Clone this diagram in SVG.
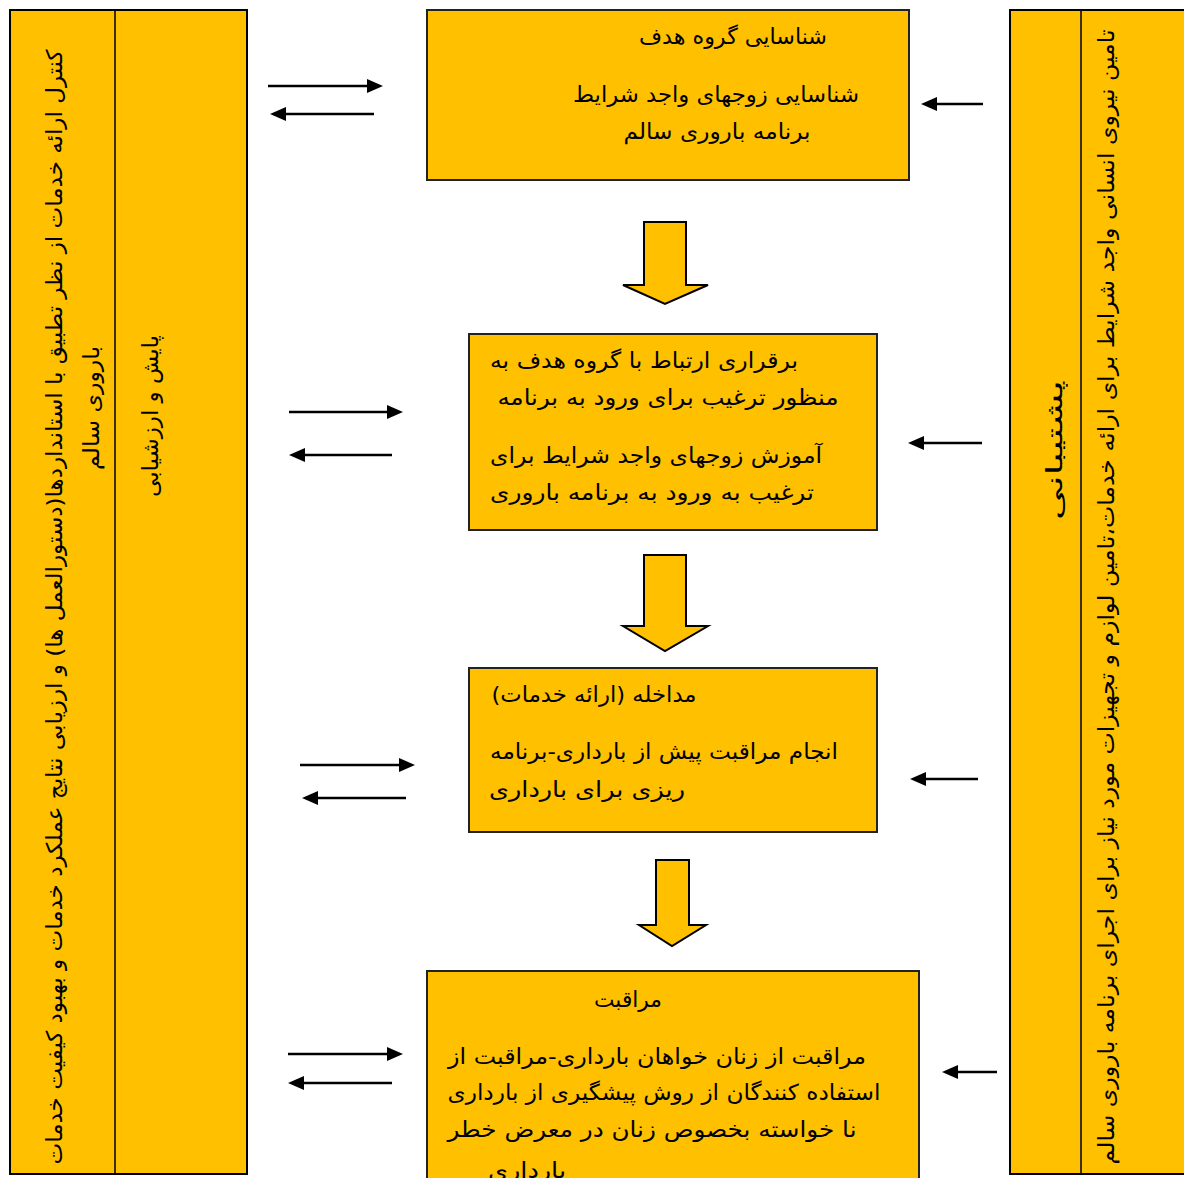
<svg xmlns="http://www.w3.org/2000/svg" width="1184" height="1178" viewBox="0 0 1184 1178">
<style>
.bg{fill:#ffffff}
.panel{fill:#FFC000;stroke:#000;stroke-width:2}
.div{stroke:#000;stroke-width:1.5}
.box{fill:#FFC000;stroke:#222;stroke-width:2}
.blk{fill:#FFC000;stroke:#000;stroke-width:2;stroke-linejoin:miter}
.t{font-family:"DejaVu Sans",sans-serif;font-size:22px;fill:#000;direction:rtl;text-anchor:middle}
.s{font-family:"DejaVu Sans",sans-serif;font-size:22px;fill:#000;direction:rtl;text-anchor:middle}
.ln{stroke:#000;stroke-width:2.5;fill:none;marker-end:url(#ah)}
</style>
<defs>
<marker id="ah" markerUnits="userSpaceOnUse" markerWidth="16" markerHeight="14" viewBox="0 0 16 14" refX="0" refY="7" orient="auto">
<path d="M0,0 L16,7 L0,14 Z" fill="#000"/>
</marker>
</defs>
<rect class="bg" x="0" y="0" width="1184" height="1178"/>

<g id="left-panel">
<rect class="panel" x="10" y="10" width="237" height="1164"/>
<line class="div" x1="115" y1="10" x2="115" y2="1174"/>
<text class="s" transform="translate(62,607) rotate(-90)" x="0" y="0" textLength="1115" lengthAdjust="spacingAndGlyphs">کنترل ارائه خدمات از نظر تطبیق با استانداردها(دستورالعمل ها) و ارزیابی نتایج عملکرد خدمات و بهبود کیفیت خدمات</text>
<text class="s" transform="translate(99,408) rotate(-90)" x="0" y="0" textLength="124" lengthAdjust="spacingAndGlyphs">باروری سالم</text>
<text class="s" transform="translate(158,416) rotate(-90)" x="0" y="0" textLength="162" lengthAdjust="spacingAndGlyphs">پایش و ارزشیابی</text>
</g>

<g id="right-panel">
<rect class="panel" x="1010" y="10" width="180" height="1164"/>
<line class="div" x1="1081" y1="10" x2="1081" y2="1174"/>
<text class="s" transform="translate(1062,450) rotate(-90)" x="0" y="0" textLength="140" lengthAdjust="spacingAndGlyphs">پشتیبانی</text>
<text class="s" transform="translate(1114,597) rotate(-90)" x="0" y="0" textLength="1135" lengthAdjust="spacingAndGlyphs">تامین نیروی انسانی واجد شرایط برای ارائه خدمات،تامین لوازم و تجهیزات مورد نیاز برای اجرای برنامه باروری سالم</text>
</g>

<g id="box1">
<rect class="box" x="427" y="10" width="482" height="170"/>
<text class="t" x="733" y="44" textLength="188" lengthAdjust="spacingAndGlyphs">شناسایی گروه هدف</text>
<text class="t" x="716" y="102" textLength="286" lengthAdjust="spacingAndGlyphs">شناسایی زوجهای واجد شرایط</text>
<text class="t" x="717" y="139" textLength="187" lengthAdjust="spacingAndGlyphs">برنامه باروری سالم</text>
</g>

<g id="box2">
<rect class="box" x="469" y="334" width="408" height="196"/>
<text class="t" x="644" y="368" textLength="308" lengthAdjust="spacingAndGlyphs">برقراری ارتباط با گروه هدف به</text>
<text class="t" x="668" y="405" textLength="341" lengthAdjust="spacingAndGlyphs">منظور ترغیب برای ورود به برنامه</text>
<text class="t" x="656" y="463" textLength="332" lengthAdjust="spacingAndGlyphs">آموزش زوجهای واجد شرایط برای</text>
<text class="t" x="652" y="500" textLength="324" lengthAdjust="spacingAndGlyphs">ترغیب به ورود به برنامه باروری</text>
</g>

<g id="box3">
<rect class="box" x="469" y="668" width="408" height="164"/>
<text class="t" x="594" y="702" textLength="205" lengthAdjust="spacingAndGlyphs">مداخله (ارائه خدمات)</text>
<text class="t" x="664" y="759" textLength="348" lengthAdjust="spacingAndGlyphs">انجام مراقبت پیش از بارداری-برنامه</text>
<text class="t" x="587" y="797" textLength="196" lengthAdjust="spacingAndGlyphs">ریزی برای بارداری</text>
</g>

<g id="box4">
<rect class="box" x="427" y="971" width="492" height="220"/>
<text class="t" x="628" y="1007" textLength="68" lengthAdjust="spacingAndGlyphs">مراقبت</text>
<text class="t" x="657" y="1064" textLength="418" lengthAdjust="spacingAndGlyphs">مراقبت از زنان خواهان بارداری-مراقبت از</text>
<text class="t" x="664" y="1100" textLength="433" lengthAdjust="spacingAndGlyphs">استفاده کنندگان از روش پیشگیری از بارداری</text>
<text class="t" x="652" y="1137" textLength="409" lengthAdjust="spacingAndGlyphs">نا خواسته بخصوص زنان در معرض خطر</text>
<text class="t" x="527" y="1178" textLength="78" lengthAdjust="spacingAndGlyphs">بارداری</text>
</g>

<g id="connectors">
<polygon class="blk" points="644,222 686,222 686,285 708,285 665,304 623,285 644,285"/>
<polygon class="blk" points="644,555 686,555 686,626 708,626 665,651 623,626 644,626"/>
<polygon class="blk" points="656,860 689,860 689,925 706,925 672,946 639,925 656,925"/>

<line class="ln" x1="268" y1="86" x2="367" y2="86"/>
<line class="ln" x1="374" y1="114" x2="286" y2="114"/>
<line class="ln" x1="289" y1="412" x2="387" y2="412"/>
<line class="ln" x1="392" y1="455" x2="305" y2="455"/>
<line class="ln" x1="300" y1="765" x2="399" y2="765"/>
<line class="ln" x1="406" y1="798" x2="318" y2="798"/>
<line class="ln" x1="288" y1="1054" x2="387" y2="1054"/>
<line class="ln" x1="392" y1="1083" x2="304" y2="1083"/>

<line class="ln" x1="983" y1="104" x2="937" y2="104"/>
<line class="ln" x1="982" y1="443" x2="924" y2="443"/>
<line class="ln" x1="978" y1="779" x2="926" y2="779"/>
<line class="ln" x1="997" y1="1072" x2="958" y2="1072"/>
</g>
</svg>
